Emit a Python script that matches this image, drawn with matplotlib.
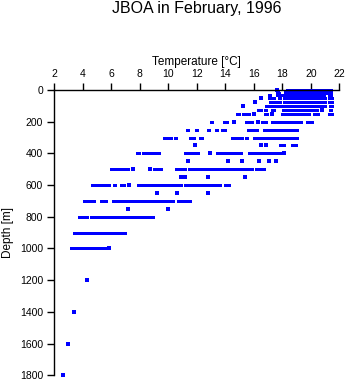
#!/usr/bin/env python

import matplotlib
matplotlib.use("Agg")
import matplotlib.pyplot as plt

# depth levels [m] of the CTD casts
depths = [0, 10, 20, 30, 50, 75, 100, 125, 150, 200, 250, 300, 350, 400,
          450, 500, 550, 600, 650, 700, 750, 800, 900, 1000, 1200, 1400,
          1600, 1800]

# temperature runs [degC] seen at each depth: (start, end), single obs when equal
runs = [
    [(17.65, 17.65), (18.35, 21.45)],
    [(17.7, 17.7), (18.2, 21.45)],
    [(17.6, 17.75), (18.3, 21.45)],
    [(17.1, 17.15), (17.6, 17.9), (18.15, 20.9), (21.3, 21.45)],
    [(16.5, 16.5), (17.1, 17.45), (17.75, 17.85), (18.1, 21.0), (21.3, 21.5)],
    [(16.1, 16.1), (17.15, 17.55), (17.75, 17.85), (18.15, 21.0), (21.3, 21.5)],
    [(15.27, 15.27), (16.85, 17.2), (17.45, 17.8), (18.0, 20.25), (20.45, 21.0),
     (21.35, 21.5)],
    [(16.3, 16.5), (16.8, 16.85), (17.25, 17.45), (18.05, 19.85), (19.95, 20.45),
     (20.8, 20.8), (21.35, 21.45)],
    [(14.85, 14.95), (15.25, 15.65), (16.0, 16.0), (16.8, 16.95), (17.3, 17.3),
     (18.0, 19.9), (20.2, 20.5), (21.3, 21.5)],
    [(13.0, 13.05), (13.9, 14.1), (14.63, 14.63), (15.45, 15.5), (15.75, 15.9),
     (16.33, 16.33), (16.6, 16.85), (17.3, 19.3), (19.7, 20.1)],
    [(11.3, 11.38), (11.92, 11.98), (12.8, 12.87), (13.33, 13.45), (13.8, 13.95),
     (15.62, 15.72), (15.95, 16.25), (16.72, 19.0)],
    [(9.7, 9.83), (10.05, 10.2), (10.45, 10.55), (11.52, 11.82), (12.23, 12.4),
     (14.5, 15.2), (15.45, 15.5), (16.0, 16.75), (16.9, 19.0)],
    [(11.84, 11.84), (16.5, 16.5), (16.88, 16.88), (17.85, 18.15), (18.65, 18.95)],
    [(7.78, 7.92), (8.23, 8.45), (8.65, 8.95), (9.12, 9.37), (11.15, 11.82),
     (12.0, 12.1), (12.9, 12.9), (13.4, 15.1), (15.65, 17.85), (18.1, 18.1)],
    [(11.4, 11.4), (14.22, 14.22), (15.17, 15.17), (16.4, 16.4), (17.1, 17.1),
     (17.58, 17.58)],
    [(5.95, 6.8), (7.05, 7.2), (7.5, 7.5), (8.75, 8.75), (9.0, 9.5), (10.55, 11.2),
     (11.45, 12.42), (12.55, 15.9), (16.12, 16.75)],
    [(10.9, 10.9), (11.2, 11.2), (12.82, 12.82), (15.4, 15.4)],
    [(4.67, 5.15), (5.38, 5.85), (6.2, 6.25), (6.68, 6.9), (7.26, 7.26),
     (7.9, 10.9), (11.15, 13.65), (13.95, 14.28)],
    [(9.2, 9.2), (10.6, 10.6), (12.82, 12.82)],
    [(4.08, 4.82), (5.3, 5.65), (6.15, 7.05), (7.2, 8.8), (8.9, 10.35),
     (10.65, 11.0), (11.2, 11.55)],
    [(7.2, 7.2), (10.0, 10.0)],
    [(3.7, 4.3), (4.6, 8.55), (8.8, 8.95)],
    [(3.35, 4.1), (4.28, 6.95)],
    [(3.15, 5.55), (5.82, 5.82)],
    [(4.32, 4.32)],
    [(3.38, 3.38)],
    [(2.98, 2.98)],
    [(2.61, 2.61)],
]

xticks = list(range(2, 23, 2))
yticks = list(range(0, 1801, 200))


def main():
    plt.rcParams["font.family"] = ["Liberation Sans", "DejaVu Sans"]

    fig = plt.figure(figsize=(3.48, 3.84), dpi=100)
    ax = fig.add_axes([0.156, 0.0227, 0.819, 0.743])

    # split runs into line segments and single observations
    ys, x0, x1 = [], [], []
    py, px = [], []
    for d, segs in zip(depths, runs):
        for t0, t1 in segs:
            if t1 > t0:
                ys.append(d)
                x0.append(t0)
                x1.append(t1)
            else:
                py.append(d)
                px.append(t0)
    ax.hlines(ys, x0, x1, colors="#0000ff", linewidth=2.1,
              capstyle="projecting", antialiased=False, clip_on=False)
    ax.plot(px, py, "s", color="#0000ff", ms=2.3, mew=0,
            antialiased=False, clip_on=False)

    ax.set_xlim(2, 22)
    ax.set_ylim(1800, 0)
    ax.set_xticks(xticks)
    ax.set_yticks(yticks)
    ax.xaxis.tick_top()
    ax.xaxis.set_label_position("top")
    for s in ["bottom", "right"]:
        ax.spines[s].set_visible(False)
    for s in ["top", "left"]:
        ax.spines[s].set_linewidth(1.0)
    ax.tick_params(direction="out", length=5, width=1, labelsize=7.5, pad=3)

    ax.set_xlabel("Temperature [°C]", fontsize=8.5, labelpad=3)
    ax.set_ylabel("Depth [m]", fontsize=8.5, labelpad=4)
    fig.text(0.566, 0.965, "JBOA in February, 1996", ha="center",
             va="baseline", fontsize=11.5)

    fig.savefig("out.png", dpi=100)


if __name__ == "__main__":
    main()
